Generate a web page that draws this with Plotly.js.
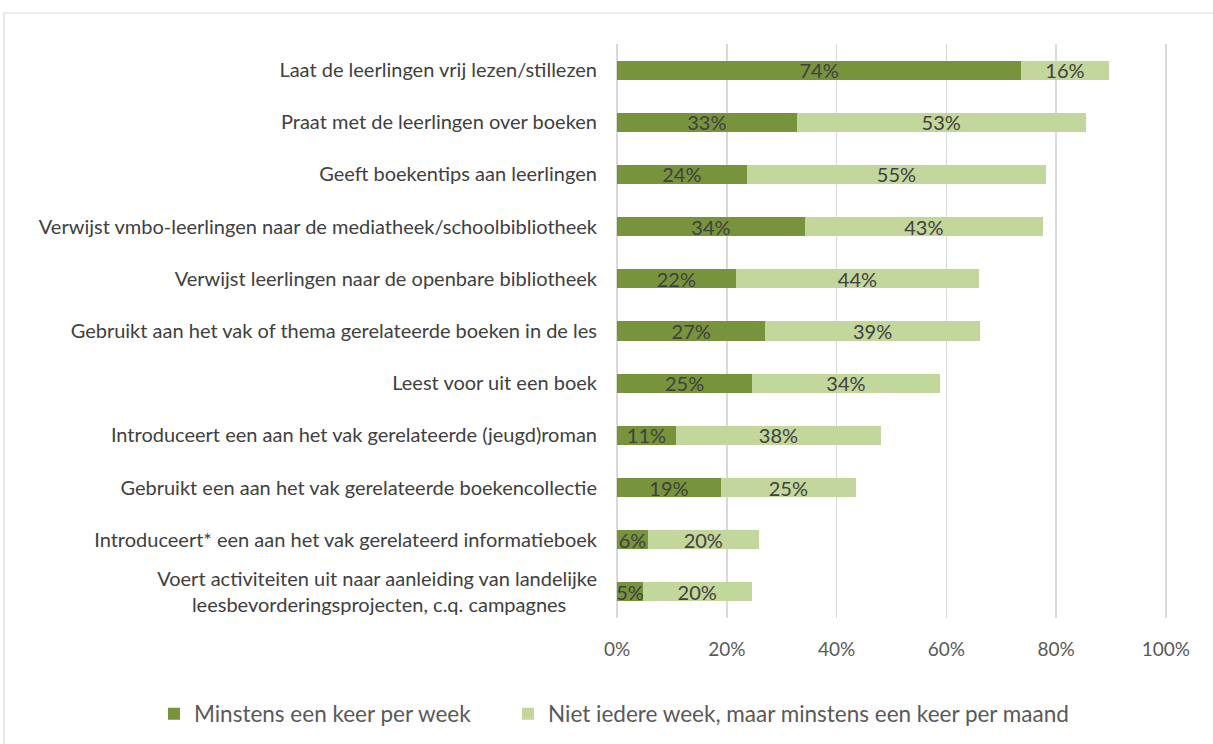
<!DOCTYPE html>
<html><head><meta charset="utf-8">
<script src="https://cdn.plot.ly/plotly-3.0.1.min.js"></script>
<style>html,body{margin:0;padding:0;background:#fff}#c{width:1213px;height:744px}</style>
</head><body><div id="c"></div>
<script>
const categories = [
  "Laat de leerlingen vrij lezen/stillezen",
  "Praat met de leerlingen over boeken",
  "Geeft boekentips aan leerlingen",
  "Verwijst vmbo-leerlingen naar de mediatheek/schoolbibliotheek",
  "Verwijst leerlingen naar de openbare bibliotheek",
  "Gebruikt aan het vak of thema gerelateerde boeken in de les",
  "Leest voor uit een boek",
  "Introduceert een aan het vak gerelateerde (jeugd)roman",
  "Gebruikt een aan het vak gerelateerde boekencollectie",
  "Introduceert* een aan het vak gerelateerd informatieboek",
  "Voert activiteiten uit naar aanleiding van landelijke<br>leesbevorderingsprojecten, c.q. campagnes\u00a0\u00a0\u00a0\u00a0\u00a0\u00a0"
];
const weekly  = [73.6, 32.7, 23.6, 34.2, 21.6, 27.0, 24.6, 10.7, 18.9, 5.6, 4.7];
const monthly = [16.0, 52.7, 54.6, 43.4, 44.4, 39.1, 34.2, 37.4, 24.6, 20.2, 19.8];
const weeklyLabels  = ["74%","33%","24%","34%","22%","27%","25%","11%","19%","6%","5%"];
const monthlyLabels = ["16%","53%","55%","43%","44%","39%","34%","38%","25%","20%","20%"];
const seriesNames = ["Minstens een keer per week", "Niet iedere week, maar minstens een keer per maand"];
const tickVals = [0,20,40,60,80,100];
const tickLabels = ["0%","20%","40%","60%","80%","100%"];

const FONT = "Lato, 'Open Sans', sans-serif";
const L = 616, R = 46, T = 44, B = 126, W = 1213, H = 744;
const pw = W - L - R, ph = H - T - B;

const common = {
  type: 'bar', orientation: 'h', y: categories,
  textposition: 'inside', insidetextanchor: 'middle', constraintext: 'none', textangle: 0,
  textfont: {family: FONT, size: 20, color: '#404040'},
  hoverinfo: 'none', cliponaxis: false
};
const data = [
  Object.assign({}, common, {x: weekly, text: weeklyLabels, name: seriesNames[0], marker: {color: '#77933c'}, legend: 'legend'}),
  Object.assign({}, common, {x: monthly, text: monthlyLabels, name: seriesNames[1], marker: {color: '#c3d69b'}, legend: 'legend2'})
];
const legendCommon = {orientation: 'h', xref: 'container', yref: 'container', xanchor: 'left', yanchor: 'middle',
  y: 30 / H, font: {family: FONT, size: 22.5, color: '#595959'}, itemclick: false, itemdoubleclick: false, bgcolor: 'rgba(0,0,0,0)'};
const layout = {
  width: W, height: H,
  margin: {l: L, r: R, t: T, b: B, pad: 0},
  barmode: 'stack', bargap: 0.635,
  paper_bgcolor: '#fff', plot_bgcolor: '#fff',
  font: {family: FONT, size: 16, color: '#595959'},
  showlegend: true,
  xaxis: {range: [-0.2, 100.2], tickvals: tickVals, ticktext: tickLabels, showgrid: true, gridcolor: '#d9d9d9', gridwidth: 1.5,
          zeroline: false, showline: false, ticks: '', ticklabelstandoff: 18, tickfont: {family: FONT, size: 19, color: '#595959'}, fixedrange: true},
  yaxis: {autorange: 'reversed', showgrid: false, zeroline: false, showline: false, ticks: '', ticklabelstandoff: 18,
          tickfont: {family: FONT, size: 20, color: '#404040'}, fixedrange: true},
  legend: Object.assign({}, legendCommon, {x: 154 / W}),
  legend2: Object.assign({}, legendCommon, {x: 508 / W}),
  shapes: [{type: 'rect', xref: 'paper', yref: 'paper', layer: 'above',
            x0: (4 - L) / pw, x1: (W + 10 - L) / pw, y0: -(B + 10) / ph, y1: 1 + (T - 13) / ph,
            line: {color: '#d9d9d9', width: 1.2}, fillcolor: 'rgba(0,0,0,0)'}]
};
Plotly.newPlot('c', data, layout, {staticPlot: true, displayModeBar: false});
</script></body></html>
